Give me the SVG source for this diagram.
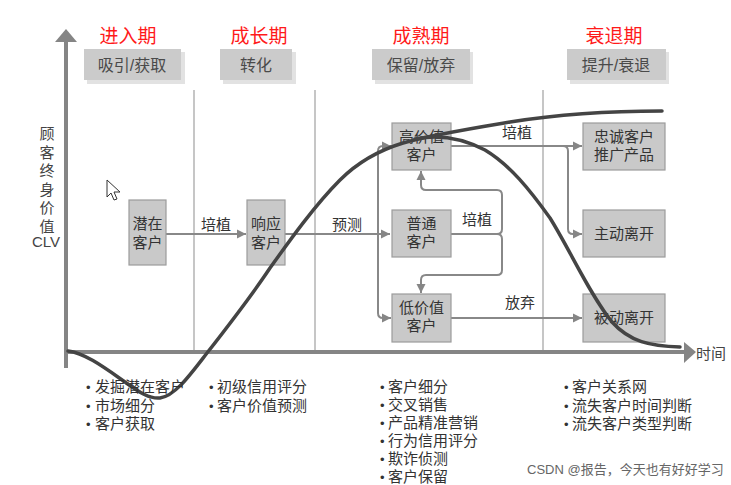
<svg xmlns="http://www.w3.org/2000/svg" width="731" height="485" viewBox="0 0 731 485">
<defs>
<marker id="ah" viewBox="0 0 10 10" refX="10" refY="5" markerWidth="9" markerHeight="10" markerUnits="userSpaceOnUse" orient="auto">
<path d="M0,0 L10,5 L0,10 Z" fill="#868686"/>
</marker>
</defs>
<style>
text{font-family:"Liberation Sans","Noto Sans CJK SC",sans-serif;}
.title{font-size:19px;fill:#ff1a1a;text-anchor:middle;}
.phase{font-size:16px;fill:#4a4a4a;text-anchor:middle;}
.pbox{fill:#cbcbcb;}
.pshadow{fill:#e2e2e2;}
.node rect{fill:#c9c9c9;stroke:#9c9c9c;stroke-width:1.2;}
.node text{font-size:15px;fill:#333;text-anchor:middle;}
.div{stroke:#a0a0a0;stroke-width:1.2;}
.axis{stroke:#858585;stroke-width:4;fill:none;}
.conn path{stroke:#888;stroke-width:2;fill:none;}
.lbl{font-size:15px;fill:#333;text-anchor:middle;}
.bul{font-size:15px;fill:#333;}
.dot{font-size:13px;}
.curve{stroke:#444;stroke-width:3.5;fill:none;stroke-linecap:round;}
.ylab{font-size:15px;fill:#444;writing-mode:vertical-rl;text-orientation:upright;letter-spacing:3.5px;}
</style>
<rect width="731" height="485" fill="#ffffff"/>

<!-- phase titles -->
<text class="title" x="128" y="43">进入期</text>
<text class="title" x="259" y="43">成长期</text>
<text class="title" x="421" y="43">成熟期</text>
<text class="title" x="614" y="43">衰退期</text>

<!-- phase boxes -->
<g id="phase1">
<rect class="pshadow" x="87" y="52" width="98" height="32"/>
<rect class="pbox" x="84" y="49" width="97" height="31"/>
<text class="phase" x="132" y="71">吸引/获取</text>
</g>
<g id="phase2">
<rect class="pshadow" x="223" y="52" width="73" height="32"/>
<rect class="pbox" x="220" y="49" width="72" height="31"/>
<text class="phase" x="256" y="71">转化</text>
</g>
<g id="phase3">
<rect class="pshadow" x="375" y="52" width="98" height="32"/>
<rect class="pbox" x="372" y="49" width="98" height="31"/>
<text class="phase" x="421" y="71">保留/放弃</text>
</g>
<g id="phase4">
<rect class="pshadow" x="570" y="52" width="99" height="32"/>
<rect class="pbox" x="567" y="49" width="99" height="31"/>
<text class="phase" x="616" y="71">提升/衰退</text>
</g>

<!-- dividers -->
<line class="div" x1="194" y1="90" x2="194" y2="352"/>
<line class="div" x1="315" y1="90" x2="315" y2="352"/>
<line class="div" x1="543" y1="90" x2="543" y2="352"/>

<!-- axes -->
<g id="axes">
<line class="axis" x1="66" y1="40" x2="66" y2="368"/>
<path d="M55,42 L66,29 L77,42 Z" fill="#858585"/>
<line class="axis" x1="64" y1="352" x2="686" y2="352"/>
<path d="M684,342 L696,352 L684,363 Z" fill="#858585"/>
<text x="711" y="359" style="font-size:15px;fill:#444;text-anchor:middle;">时间</text>
<text class="ylab" x="46" y="126">顾客终身价值</text>
<text x="46" y="247" style="font-size:15px;fill:#444;text-anchor:middle;">CLV</text>
</g>

<!-- connectors -->
<g id="connectors" class="conn">
<path d="M166,234 H246" marker-end="url(#ah)"/>
<path d="M285,234 H390" marker-end="url(#ah)"/>
<path d="M378,234 V151 Q378,146 383,146 H391" marker-end="url(#ah)"/>
<path d="M378,234 V313 Q378,318 383,318 H391" marker-end="url(#ah)"/>
<path d="M451,146 H582" marker-end="url(#ah)"/>
<path d="M563,146 Q568,146 568,151 V229 Q568,234 573,234 H582" marker-end="url(#ah)"/>
<path d="M451,234 H497 Q502,234 502,229 V195 Q502,190 497,190 H426 Q421,190 421,185 V171" marker-end="url(#ah)"/>
<path d="M451,234 H497 Q502,234 502,239 V270 Q502,275 497,275 H426 Q421,275 421,280 V293" marker-end="url(#ah)"/>
<path d="M451,318 H582" marker-end="url(#ah)"/>
</g>
<text class="lbl" x="216" y="230">培植</text>
<text class="lbl" x="347" y="230">预测</text>
<text class="lbl" x="517" y="138">培植</text>
<text class="lbl" x="477" y="225">培植</text>
<text class="lbl" x="520" y="308">放弃</text>

<!-- nodes -->
<g id="n-qianzai" class="node">
<rect x="129" y="200" width="37" height="65"/>
<text x="147.5" y="229">潜在</text>
<text x="147.5" y="248">客户</text>
</g>
<g id="n-xiangying" class="node">
<rect x="247" y="200" width="38" height="65"/>
<text x="266" y="229">响应</text>
<text x="266" y="248">客户</text>
</g>
<g id="n-gaojiazhi" class="node">
<rect x="392" y="123" width="59" height="47"/>
<text x="421.5" y="142">高价值</text>
<text x="421.5" y="160">客户</text>
</g>
<g id="n-putong" class="node">
<rect x="392" y="210" width="59" height="47"/>
<text x="421.5" y="229">普通</text>
<text x="421.5" y="247">客户</text>
</g>
<g id="n-dijiazhi" class="node">
<rect x="392" y="294" width="59" height="48"/>
<text x="421.5" y="313">低价值</text>
<text x="421.5" y="331">客户</text>
</g>
<g id="n-zhongcheng" class="node">
<rect x="583" y="123" width="82" height="47"/>
<text x="624" y="142">忠诚客户</text>
<text x="624" y="160">推广产品</text>
</g>
<g id="n-zhudong" class="node">
<rect x="583" y="210" width="82" height="47"/>
<text x="624" y="239">主动离开</text>
</g>
<g id="n-beidong" class="node">
<rect x="583" y="294" width="82" height="48"/>
<text x="624" y="323">被动离开</text>
</g>

<!-- curves -->
<path class="curve" d="M68,351 C85,353 105,368 125,382 C140,393 150,399 160,398 C175,396 190,375 207,353 C225,330 250,298 270,268 C290,240 315,205 340,180 C360,160 380,150 403,143 C430,135 480,127 510,122 C560,114 620,111 662,111"/>
<path class="curve" d="M415,139 C435,135 460,137 485,150 C510,165 530,190 550,218 C570,250 590,295 612,322 C630,342 650,346 680,347"/>

<!-- cursor -->
<path d="M107,180 L107,197 L111,193 L114,200 L117,199 L114,192 L120,192 Z" fill="#fff" stroke="#333" stroke-width="1"/>

<!-- bullet lists -->
<text class="bul" x="86" y="392"><tspan class="dot" x="86" y="392">•</tspan><tspan x="95" y="392">发掘潜在客户</tspan><tspan class="dot" x="86" y="411">•</tspan><tspan x="95" y="411">市场细分</tspan><tspan class="dot" x="86" y="429">•</tspan><tspan x="95" y="429">客户获取</tspan></text>
<text class="bul" x="209" y="392"><tspan class="dot" x="209" y="392">•</tspan><tspan x="217" y="392">初级信用评分</tspan><tspan class="dot" x="209" y="411">•</tspan><tspan x="217" y="411">客户价值预测</tspan></text>
<text class="bul" x="380" y="392"><tspan class="dot" x="380" y="392">•</tspan><tspan x="388" y="392">客户细分</tspan><tspan class="dot" x="380" y="410">•</tspan><tspan x="388" y="410">交叉销售</tspan><tspan class="dot" x="380" y="428">•</tspan><tspan x="388" y="428">产品精准营销</tspan><tspan class="dot" x="380" y="446">•</tspan><tspan x="388" y="446">行为信用评分</tspan><tspan class="dot" x="380" y="464">•</tspan><tspan x="388" y="464">欺诈侦测</tspan><tspan class="dot" x="380" y="482">•</tspan><tspan x="388" y="482">客户保留</tspan></text>
<text class="bul" x="564" y="392"><tspan class="dot" x="564" y="392">•</tspan><tspan x="572" y="392">客户关系网</tspan><tspan class="dot" x="564" y="411">•</tspan><tspan x="572" y="411">流失客户时间判断</tspan><tspan class="dot" x="564" y="429">•</tspan><tspan x="572" y="429">流失客户类型判断</tspan></text>

<text x="527" y="474" style="font-size:13px;fill:#666;">CSDN @报告，今天也有好好学习</text>
</svg>
